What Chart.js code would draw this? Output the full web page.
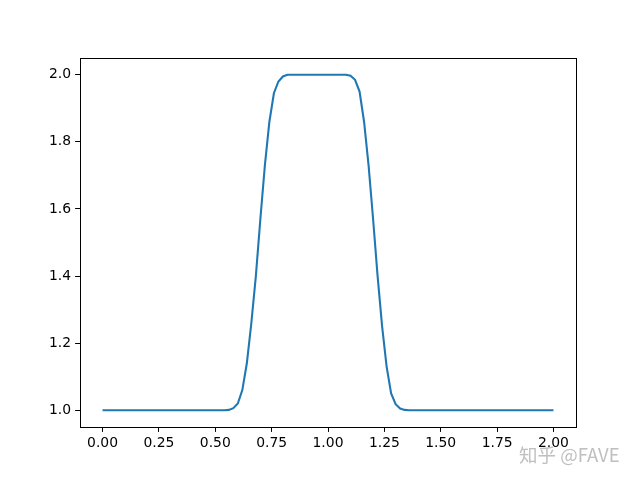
<!DOCTYPE html>
<html>
<head>
<meta charset="utf-8">
<script src="https://cdn.jsdelivr.net/npm/chart.js@4"></script>
<style>
html,body{margin:0;padding:0;background:#fff;}
#wrap{width:640px;height:480px;position:relative;}
</style>
</head>
<body>
<div id="wrap"><canvas id="c" width="640" height="480"></canvas></div>
<script>
const xValues = [];
for (let i = 0; i <= 100; i++) xValues.push(+(i * 0.02).toFixed(2));
// u values (1.0 baseline, 2.0 plateau)
const uValues = [
  1,1,1,1,1,1,1,1,1,1,           // 0.00-0.18
  1,1,1,1,1,1,1,1,1,1,           // 0.20-0.38
  1,1,1,1,1,1,1,1,1.001,1.006,   // 0.40-0.58
  1.02,1.06,1.14,1.26,1.40,1.57,1.73,1.86,1.945,1.98, // 0.60-0.78
  1.995,2,2,2,2,2,2,2,2,2,       // 0.80-0.98
  2,2,2,2,2,1.997,1.985,1.95,1.86,1.73, // 1.00-1.18
  1.57,1.40,1.25,1.13,1.05,1.018,1.005,1.001,1,1, // 1.20-1.38
  1,1,1,1,1,1,1,1,1,1,           // 1.40-1.58
  1,1,1,1,1,1,1,1,1,1,           // 1.60-1.78
  1,1,1,1,1,1,1,1,1,1,           // 1.80-1.98
  1                              // 2.00
];
const xTicks = [0, 0.25, 0.5, 0.75, 1.0, 1.25, 1.5, 1.75, 2.0];
const yTicks = [1.0, 1.2, 1.4, 1.6, 1.8, 2.0];
const watermark = '知乎 @FAVE';

const points = xValues.map((x, i) => ({x: x, y: uValues[i]}));

const framePlugin = {
  id: 'frame',
  afterDraw(chart) {
    const {ctx, chartArea: a} = chart;
    ctx.save();
    ctx.strokeStyle = '#000';
    ctx.lineWidth = 1;
    ctx.strokeRect(Math.round(a.left) + 0.5, Math.round(a.top) + 0.5,
                   Math.round(a.right - a.left), Math.round(a.bottom - a.top));
    ctx.font = '18.5px "Noto Sans CJK SC", sans-serif';
    ctx.fillStyle = 'rgba(175,175,175,0.8)';
    ctx.textBaseline = 'alphabetic';
    ctx.textAlign = 'left';
    ctx.fillText(watermark, 519, 462);
    ctx.restore();
  }
};

const tickFont = {family: '"DejaVu Sans", sans-serif', size: 13.9};

new Chart(document.getElementById('c'), {
  type: 'line',
  data: {
    datasets: [{
      data: points,
      borderColor: '#1f77b4',
      borderWidth: 2.08,
      pointRadius: 0,
      tension: 0,
      fill: false
    }]
  },
  options: {
    responsive: false,
    animation: false,
    devicePixelRatio: 1,
    layout: {padding: {top: 58, right: 64, left: 0, bottom: 0}},
    plugins: {legend: {display: false}, tooltip: {enabled: false}},
    scales: {
      x: {
        type: 'linear',
        min: -0.1, max: 2.1,
        afterBuildTicks(s) { s.ticks = xTicks.map(v => ({value: v})); },
        afterFit(s) { s.height = 53; },
        ticks: {
          color: '#000', font: tickFont, padding: 3,
          maxRotation: 0, autoSkip: false,
          callback: v => v.toFixed(2)
        },
        grid: {drawOnChartArea: false, tickLength: 4.9, tickColor: '#000', tickWidth: 1},
        border: {display: false}
      },
      y: {
        type: 'linear',
        min: 0.95, max: 2.05,
        afterBuildTicks(s) { s.ticks = yTicks.map(v => ({value: v})); },
        afterFit(s) { s.width = 80; },
        ticks: {
          color: '#000', font: tickFont, padding: 4,
          autoSkip: false,
          callback: v => v.toFixed(1)
        },
        grid: {drawOnChartArea: false, tickLength: 4.9, tickColor: '#000', tickWidth: 1},
        border: {display: false}
      }
    }
  },
  plugins: [framePlugin]
});
</script>
</body>
</html>
